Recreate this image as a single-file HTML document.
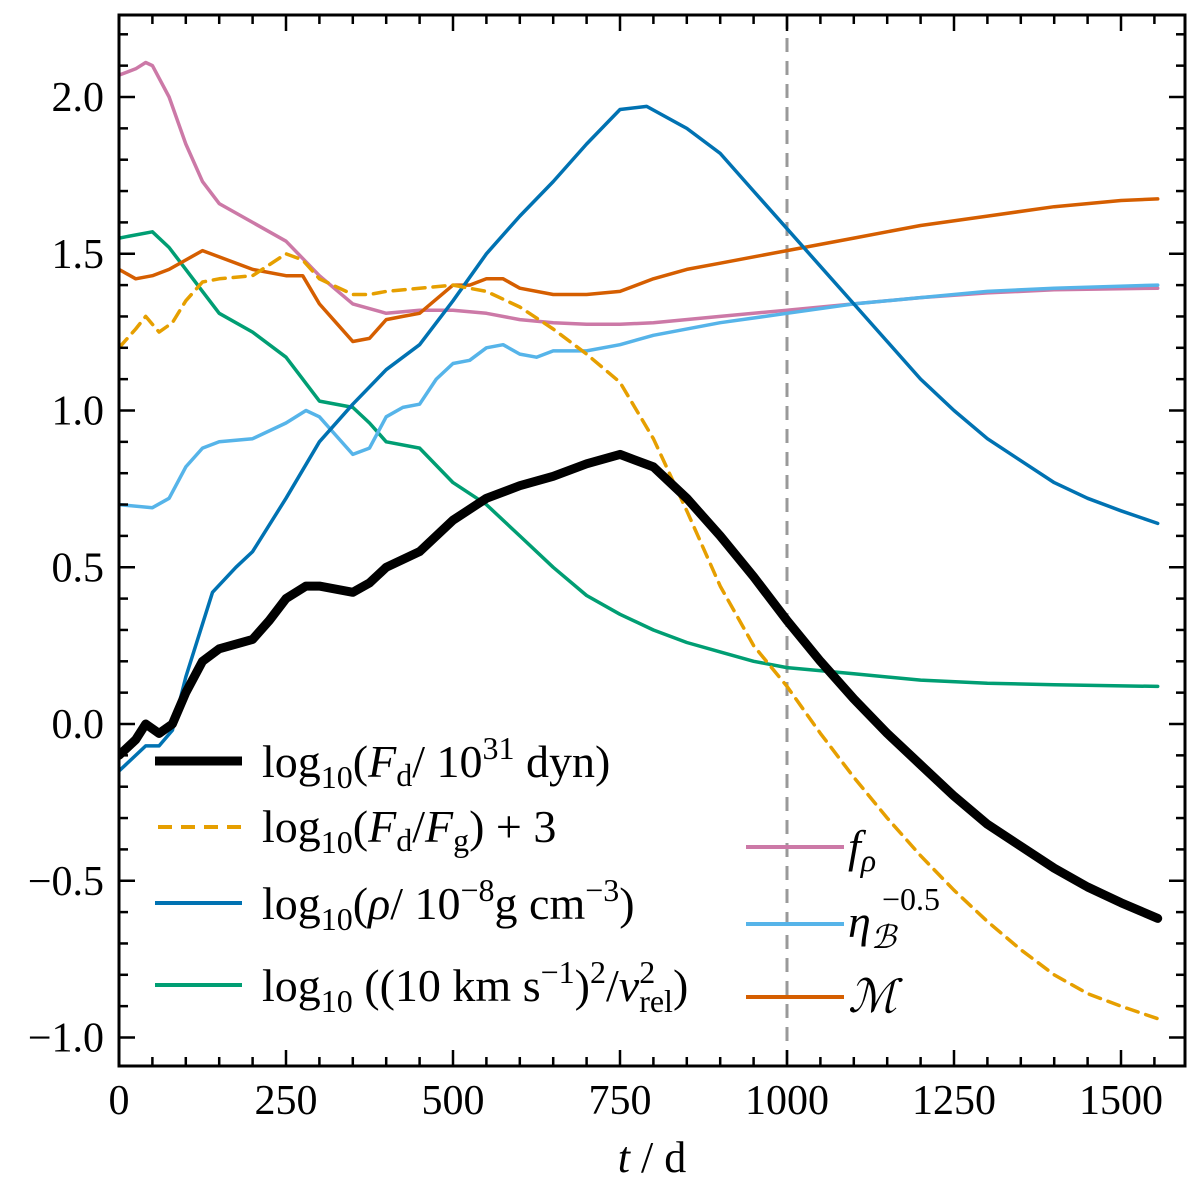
<!DOCTYPE html>
<html><head><meta charset="utf-8"><style>
html,body{margin:0;padding:0;background:#fff}
svg{display:block;font-family:"Liberation Serif",serif}
</style></head><body>
<svg id="chart" width="1200" height="1200" viewBox="0 0 1200 1200" xmlns="http://www.w3.org/2000/svg">
<defs><clipPath id="clip"><rect x="119" y="15" width="1066" height="1051"/></clipPath></defs>
<g id="series" clip-path="url(#clip)"></g>
<g id="axes"></g>
<text x="652" y="1172" font-size="44" text-anchor="middle"><tspan font-style="italic">t</tspan> / d</text>
<g font-size="46">
<line x1="155" y1="761" x2="242" y2="761" stroke="#000" stroke-width="9"/>
<text x="262" y="777">log<tspan font-size="32" dy="11">10</tspan><tspan dy="-11">(</tspan><tspan font-style="italic">F</tspan><tspan font-size="32" dy="9">d</tspan><tspan dy="-9">/ 10</tspan><tspan font-size="32" dy="-18">31</tspan><tspan dy="18"> dyn)</tspan></text>
<line x1="158" y1="827" x2="242" y2="827" stroke="#E69F00" stroke-width="4" stroke-dasharray="14,9"/>
<text x="262" y="842">log<tspan font-size="32" dy="11">10</tspan><tspan dy="-11">(</tspan><tspan font-style="italic">F</tspan><tspan font-size="32" dy="9">d</tspan><tspan dy="-9">/</tspan><tspan font-style="italic">F</tspan><tspan font-size="32" dy="9">g</tspan><tspan dy="-9">) + 3</tspan></text>
<line x1="155" y1="903" x2="242" y2="903" stroke="#0072B2" stroke-width="4"/>
<text x="262" y="919">log<tspan font-size="32" dy="11">10</tspan><tspan dy="-11">(</tspan><tspan font-style="italic">ρ</tspan>/ 10<tspan font-size="32" dy="-18">−8</tspan><tspan dy="18">g cm</tspan><tspan font-size="32" dy="-18">−3</tspan><tspan dy="18">)</tspan></text>
<line x1="155" y1="985" x2="242" y2="985" stroke="#009E73" stroke-width="4"/>
<text x="262" y="1001">log<tspan font-size="32" dy="11">10</tspan><tspan dy="-11"> ((10 km s</tspan><tspan font-size="32" dy="-18">−1</tspan><tspan dy="18">)</tspan><tspan font-size="32" dy="-18">2</tspan><tspan dy="18">/</tspan><tspan font-style="italic">v</tspan><tspan font-size="32" dy="-18">2</tspan><tspan font-size="32" dx="-16" dy="29">rel</tspan><tspan dy="-11">)</tspan></text>
</g>
<g font-size="46" font-style="italic">
<line x1="746" y1="847" x2="844" y2="847" stroke="#CC79A7" stroke-width="4"/>
<text x="848" y="862">f<tspan font-size="32" dy="9">ρ</tspan></text>
<line x1="746" y1="924" x2="844" y2="924" stroke="#56B4E9" stroke-width="4"/>
<text x="848" y="937">η<tspan font-size="32" dy="11">ℬ</tspan><tspan font-size="32" font-style="normal" dx="-14" dy="-38">−0.5</tspan></text>
<line x1="746" y1="997" x2="844" y2="997" stroke="#D55E00" stroke-width="4"/>
<text x="848" y="1012">ℳ</text>
</g>
</svg>
<script>
const tFd=[0,25,40,60,80,100,125,150,200,225,250,280,300,350,375,400,450,500,550,600,650,700,750,800,850,900,950,1000,1050,1100,1150,1200,1250,1300,1350,1400,1450,1500,1555];
const vFd=[-0.1,-0.05,0.0,-0.03,0.0,0.1,0.2,0.24,0.27,0.33,0.4,0.44,0.44,0.42,0.45,0.5,0.55,0.65,0.72,0.76,0.79,0.83,0.86,0.82,0.72,0.6,0.47,0.33,0.2,0.08,-0.03,-0.13,-0.23,-0.32,-0.39,-0.46,-0.52,-0.57,-0.62];
const tFg=[0,25,40,60,80,100,125,150,200,250,275,300,350,375,400,450,500,550,600,650,700,750,800,850,900,950,1000,1050,1100,1150,1200,1250,1300,1350,1400,1450,1500,1555];
const vFg=[1.2,1.26,1.3,1.25,1.28,1.35,1.41,1.42,1.43,1.5,1.48,1.42,1.37,1.37,1.38,1.39,1.4,1.38,1.33,1.26,1.18,1.09,0.91,0.68,0.44,0.25,0.12,-0.03,-0.17,-0.3,-0.42,-0.53,-0.63,-0.72,-0.8,-0.86,-0.9,-0.94];
const tRho=[0,40,60,80,100,140,175,200,250,300,350,400,450,500,550,600,650,700,750,790,850,900,950,1000,1050,1100,1150,1200,1250,1300,1350,1400,1450,1500,1555];
const vRho=[-0.15,-0.07,-0.07,-0.02,0.15,0.42,0.5,0.55,0.72,0.9,1.02,1.13,1.21,1.35,1.5,1.62,1.73,1.85,1.96,1.97,1.9,1.82,1.7,1.58,1.46,1.34,1.22,1.1,1.0,0.91,0.84,0.77,0.72,0.68,0.64];
const tV=[0,50,75,100,125,150,200,250,275,300,350,375,400,450,500,550,600,650,700,750,800,850,900,950,1000,1100,1200,1300,1400,1555];
const vV=[1.55,1.57,1.52,1.45,1.38,1.31,1.25,1.17,1.1,1.03,1.01,0.96,0.9,0.88,0.77,0.7,0.6,0.5,0.41,0.35,0.3,0.26,0.23,0.2,0.18,0.16,0.14,0.13,0.125,0.12];
const tFr=[0,25,40,50,75,100,125,150,200,250,300,350,400,450,500,550,600,650,700,750,800,900,1000,1100,1200,1300,1400,1555];
const vFr=[2.07,2.09,2.11,2.1,2.0,1.85,1.73,1.66,1.6,1.54,1.43,1.34,1.31,1.32,1.32,1.31,1.29,1.28,1.275,1.275,1.28,1.3,1.32,1.34,1.36,1.375,1.385,1.39];
const tEta=[0,50,75,100,125,150,200,250,280,300,325,350,375,400,425,450,475,500,525,550,575,600,625,650,700,750,800,900,1000,1100,1200,1300,1400,1555];
const vEta=[0.7,0.69,0.72,0.82,0.88,0.9,0.91,0.96,1.0,0.98,0.92,0.86,0.88,0.98,1.01,1.02,1.1,1.15,1.16,1.2,1.21,1.18,1.17,1.19,1.19,1.21,1.24,1.28,1.31,1.34,1.36,1.38,1.39,1.4];
const tM=[0,25,50,75,100,125,150,200,250,275,300,325,350,375,400,425,450,500,525,550,575,600,650,700,750,800,850,900,1000,1100,1200,1300,1400,1500,1555];
const vM=[1.45,1.42,1.43,1.45,1.48,1.51,1.49,1.45,1.43,1.43,1.34,1.28,1.22,1.23,1.29,1.3,1.31,1.4,1.4,1.42,1.42,1.39,1.37,1.37,1.38,1.42,1.45,1.47,1.51,1.55,1.59,1.62,1.65,1.67,1.675];
const xTicks=[0,250,500,750,1000,1250,1500];
const yTicks=[-1.0,-0.5,0.0,0.5,1.0,1.5,2.0];
const yLabels=["−1.0","−0.5","0.0","0.5","1.0","1.5","2.0"];
const vLine=1000;
const X0=119,X1=1185,Y0=15,Y1=1066;
const sx=t=>X0+t*0.668;
const sy=v=>724-v*313.5;
const NS='http://www.w3.org/2000/svg';
const g=document.getElementById('series'),ax=document.getElementById('axes');
function mk(tag,at,par){const e=document.createElementNS(NS,tag);for(const k in at)e.setAttribute(k,at[k]);par.appendChild(e);return e;}
function line(ts,vs,col,w,name,dash){
 let d=ts.map((t,i)=>(i?'L':'M')+sx(t).toFixed(1)+','+sy(vs[i]).toFixed(1)).join('');
 const p=mk('path',{d:d,fill:'none',stroke:col,'stroke-width':w,'stroke-linejoin':'round','stroke-linecap':'round'},g);
 if(dash)p.setAttribute('stroke-dasharray',dash);
 
 
}
const vl=mk('line',{x1:sx(vLine),x2:sx(vLine),y1:Y0,y2:Y1,stroke:'#999','stroke-width':3,'stroke-dasharray':'14,9'},g);


line(tV,vV,'#009E73',3.5,'series-vrel');
line(tFr,vFr,'#CC79A7',3.5,'series-frho');
line(tEta,vEta,'#56B4E9',3.5,'series-eta');
line(tM,vM,'#D55E00',3.5,'series-mach');
line(tRho,vRho,'#0072B2',3.5,'series-rho');
line(tFg,vFg,'#E69F00',3.5,'series-fdfg','12,8');
line(tFd,vFd,'#000',9,'series-fd');
const fr=mk('rect',{x:X0,y:Y0,width:X1-X0,height:Y1-Y0,fill:'none',stroke:'#000','stroke-width':3},ax);


for(let t=0;t<=1590;t+=50){const L=(t%250===0)?16:9;const x=sx(t);
 mk('line',{x1:x,x2:x,y1:Y1,y2:Y1-L,stroke:'#000','stroke-width':2.5},ax);
 mk('line',{x1:x,x2:x,y1:Y0,y2:Y0+L,stroke:'#000','stroke-width':2.5},ax);}
for(let k=-10;k<=22;k++){const v=k/10;const y=sy(v);if(y<Y0||y>Y1)continue;const L=(k%5===0)?16:9;
 mk('line',{x1:X0,x2:X0+L,y1:y,y2:y,stroke:'#000','stroke-width':2.5},ax);
 mk('line',{x1:X1,x2:X1-L,y1:y,y2:y,stroke:'#000','stroke-width':2.5},ax);}
xTicks.forEach(t=>{const e=mk('text',{x:sx(t),y:1114,'font-size':42,'text-anchor':'middle'},ax);e.textContent=String(t);
 
 });
yTicks.forEach((v,i)=>{const e=mk('text',{x:104,y:sy(v)+14,'font-size':42,'text-anchor':'end'},ax);e.textContent=yLabels[i];
 
 });
</script>
</body></html>
